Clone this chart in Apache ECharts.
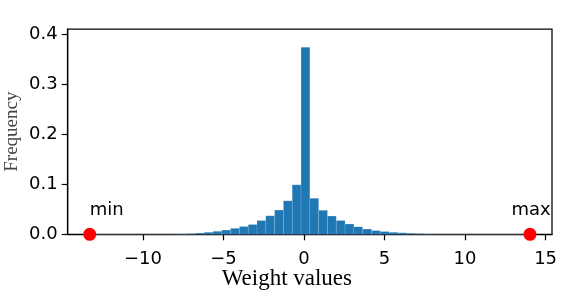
<!DOCTYPE html>
<html>
<head>
<meta charset="utf-8">
<script src="https://cdn.jsdelivr.net/npm/echarts@6/dist/echarts.min.js"></script>
<style>
html,body{margin:0;padding:0;background:#fff;}
#chart{width:581px;height:291px;}
</style>
</head>
<body>
<div id="chart"></div>
<script>
// ---- data ----
const weightMin = -13.3;
const weightMax = 14.03;
const binCount = 50;
const frequencies = [
  0, 0, 0, 0, 0, 0, 0, 0, 0, 0.0002,
  0.0006, 0.0012, 0.0025, 0.004, 0.006, 0.0085, 0.012, 0.0155, 0.0195, 0.0275,
  0.037, 0.0485, 0.067, 0.099, 0.374, 0.072, 0.048, 0.0365, 0.0275, 0.0205,
  0.015, 0.0105, 0.0075, 0.0055, 0.004, 0.003, 0.002, 0.0012, 0.0005, 0.0002,
  0, 0, 0, 0, 0, 0, 0, 0, 0, 0
];
const xTicks = [-10, -5, 0, 5, 10, 15];
const yTicks = [0, 0.1, 0.2, 0.3, 0.4];
const markerLabels = ['min', 'max'];

// ---- build ----
const binWidth = (weightMax - weightMin) / binCount;
const histData = frequencies.map((f, i) => [weightMin + i * binWidth, weightMin + (i + 1) * binWidth, f]);
const pad = (weightMax - weightMin) * 0.05;
const yTop = 0.4106;

const chart = echarts.init(document.getElementById('chart'), null, {renderer: 'canvas'});
const tickFont = {fontFamily: 'DejaVu Sans', fontSize: 18, color: '#000'};

chart.setOption({
  animation: false,
  backgroundColor: '#fff',
  grid: {left: 67.7, right: 29, top: 29, bottom: 56.7, show: true, borderColor: '#000', borderWidth: 1.25, containLabel: false, outerBoundsMode: 'none'},
  xAxis: {
    type: 'value',
    min: weightMin - pad,
    max: weightMax + pad,
    splitLine: {show: false},
    axisLine: {show: true, onZero: false, lineStyle: {color: '#000', width: 1.25}},
    axisTick: {show: true, inside: false, length: 6, customValues: xTicks, lineStyle: {color: '#000', width: 1.2}},
    axisLabel: Object.assign({margin: 16, customValues: xTicks, formatter: v => String(v).replace('-', '\u2212')}, tickFont),
    name: 'Weight values',
    nameLocation: 'middle',
    nameGap: 33,
    nameMoveOverlap: false,
    nameTextStyle: {fontFamily: 'Liberation Serif', fontSize: 23, color: '#000', padding: [0, 46, 0, 0]}
  },
  yAxis: {
    type: 'value',
    min: 0,
    max: yTop,
    splitLine: {show: false},
    axisLine: {show: true, onZero: false, lineStyle: {color: '#000', width: 1.25}},
    axisTick: {show: true, inside: false, length: 6, customValues: yTicks, lineStyle: {color: '#000', width: 1.2}},
    axisLabel: Object.assign({margin: 10, customValues: yTicks, formatter: v => v.toFixed(1)}, tickFont),
    name: 'Frequency',
    nameLocation: 'middle',
    nameGap: 46,
    nameMoveOverlap: false,
    nameTextStyle: {fontFamily: 'Liberation Serif', fontSize: 19, color: '#444'}
  },
  series: [
    {
      type: 'custom',
      data: histData,
      z: 2,
      renderItem: function (params, api) {
        const p0 = api.coord([api.value(0), 0]);
        const p1 = api.coord([api.value(1), api.value(2)]);
        return {
          type: 'rect',
          shape: {x: p0[0], y: p1[1], width: p1[0] - p0[0], height: p0[1] - p1[1]},
          style: {fill: '#1f77b4', stroke: 'rgba(255,255,255,0.22)', lineWidth: 0.6}
        };
      }
    },
    {
      type: 'scatter',
      z: 5,
      symbol: 'circle',
      symbolSize: 13,
      itemStyle: {color: '#ff0000', opacity: 1},
      emphasis: {disabled: true},
      data: [
        {value: [weightMin, 0], name: markerLabels[0], label: {offset: [17, 0]}},
        {value: [weightMax, 0], name: markerLabels[1], label: {offset: [1, 0]}}
      ],
      label: {
        show: true,
        position: 'top',
        distance: 8,
        formatter: p => p.name,
        fontFamily: 'DejaVu Sans',
        fontSize: 18,
        color: '#000'
      }
    }
  ]
});
</script>
</body>
</html>
